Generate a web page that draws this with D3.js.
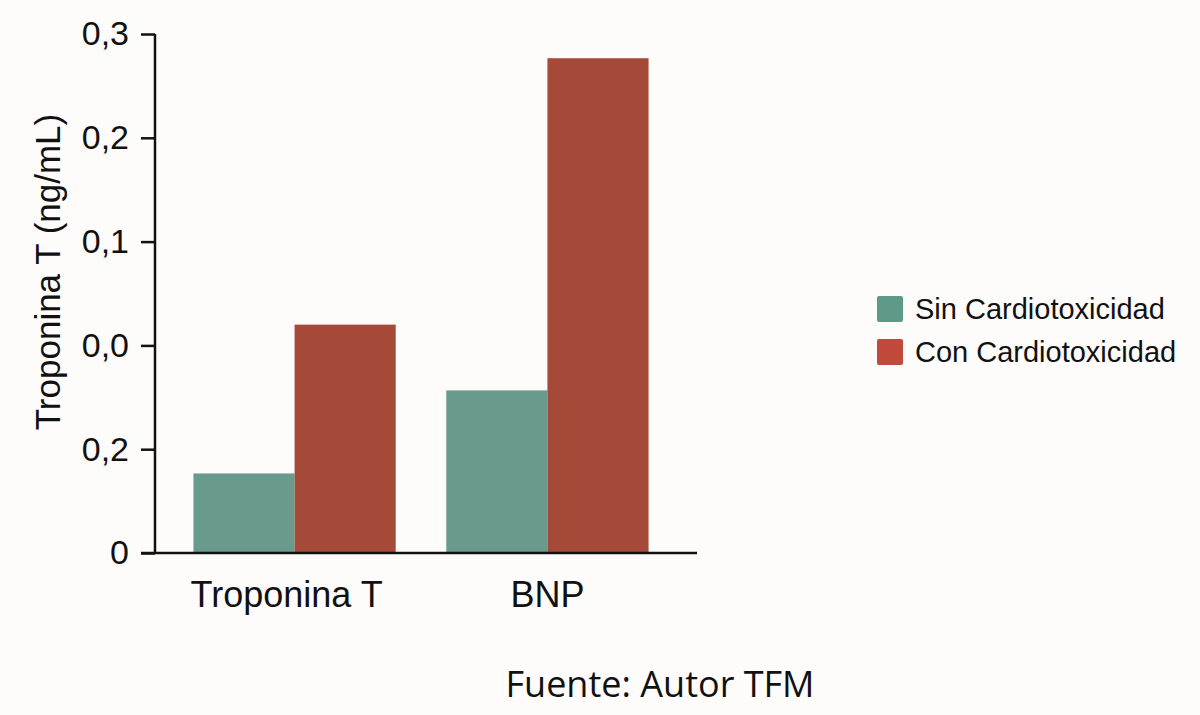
<!DOCTYPE html>
<html lang="es">
<head>
  <meta charset="UTF-8">
  <title>Troponina T y BNP</title>
  <script src="https://d3js.org/d3.v7.min.js"></script>
  <style>
    body { margin: 0; background: #fdfcfb; }
    svg { display: block; font-family: "Liberation Sans", Arial, sans-serif; }
  </style>
</head>
<body>
  <div id="chart"></div>
  <script>
    // datos
    var categories = ["Troponina T", "BNP"];
    var seriesNames = ["Sin Cardiotoxicidad", "Con Cardiotoxicidad"];
    var sinValues = [0.046, 0.094];
    var conValues = [0.132, 0.286];
    var yTickLabels = ["0", "0,2", "0,0", "0,1", "0,2", "0,3"];

    var width = 1200, height = 715;
    var svg = d3.select("#chart").append("svg")
      .attr("width", width)
      .attr("height", height);

    svg.append("rect").attr("width", width).attr("height", height).attr("fill", "#fdfcfb");

    var mLeft = 155, mRight = 697, mTop = 34, mBottom = 553;

    var x0 = d3.scaleBand().domain(categories).range([mLeft, 687])
      .paddingInner(0.2).paddingOuter(0.152);
    var x1 = d3.scaleBand().domain(seriesNames).range([0, x0.bandwidth()]);
    var y = d3.scaleLinear().domain([0, 0.3]).range([mBottom, mTop]);

    var barColors = d3.scaleOrdinal().domain(seriesNames).range(["#689b8b", "#a54a39"]);
    var legendColors = d3.scaleOrdinal().domain(seriesNames).range(["#5f9a88", "#c0493b"]);

    var rows = categories.map(function (c, i) {
      return { cat: c, values: [
        { name: seriesNames[0], v: sinValues[i] },
        { name: seriesNames[1], v: conValues[i] }
      ] };
    });

    // barras
    var groups = svg.selectAll("g.grp").data(rows).enter().append("g")
      .attr("class", "grp")
      .attr("transform", d => "translate(" + x0(d.cat) + ",0)");

    groups.selectAll("rect").data(d => d.values).enter().append("rect")
      .attr("x", d => x1(d.name))
      .attr("y", d => y(d.v))
      .attr("width", x1.bandwidth())
      .attr("height", d => y(0) - y(d.v))
      .attr("fill", d => barColors(d.name));

    // eje Y
    var tickVals = d3.range(yTickLabels.length).map(i => i * 0.3 / (yTickLabels.length - 1));
    var yAxis = svg.append("g")
      .attr("transform", "translate(" + mLeft + ",0)")
      .call(d3.axisLeft(y).tickValues(tickVals).tickSize(14).tickPadding(12)
        .tickFormat((d, i) => yTickLabels[i]));
    yAxis.select(".domain").attr("stroke", "#111").attr("stroke-width", 2.5)
      .attr("d", "M0," + mTop + "V" + mBottom);
    yAxis.selectAll(".tick line").attr("stroke", "#111").attr("stroke-width", 2.5);
    yAxis.selectAll(".tick text").attr("font-size", 34).attr("fill", "#111")
      .attr("font-family", "Liberation Sans, Arial, sans-serif");

    // eje X
    var xAxis = svg.append("g")
      .attr("transform", "translate(0," + mBottom + ")")
      .call(d3.axisBottom(x0).tickSize(0).tickPadding(28));
    xAxis.select(".domain").attr("stroke", "#111").attr("stroke-width", 2.5)
      .attr("d", "M" + (mLeft - 14) + ",0H" + mRight);
    xAxis.selectAll(".tick text").attr("font-size", 36).attr("fill", "#111")
      .attr("font-family", "Liberation Sans, Arial, sans-serif")
      .attr("dx", (d, i) => i === 0 ? -8 : 0);

    // título eje Y
    svg.append("text")
      .attr("transform", "translate(60,272) rotate(-90)")
      .attr("text-anchor", "middle")
      .attr("font-size", 35)
      .attr("fill", "#111")
      .text("Troponina T (ng/mL)");

    // leyenda
    var legend = svg.selectAll("g.leg").data(seriesNames).enter().append("g")
      .attr("class", "leg")
      .attr("transform", (d, i) => "translate(877," + (296 + i * 43) + ")");
    legend.append("rect").attr("width", 26).attr("height", 26).attr("rx", 2)
      .attr("fill", d => legendColors(d));
    legend.append("text").attr("x", 38).attr("y", 23)
      .attr("font-size", 29).attr("fill", "#111").text(d => d);

    // fuente
    svg.append("text")
      .attr("x", 660).attr("y", 697)
      .attr("text-anchor", "middle")
      .attr("font-family", "Open Sans, sans-serif")
      .attr("font-size", 36)
      .attr("fill", "#111")
      .text("Fuente: Autor TFM");
  </script>
</body>
</html>
